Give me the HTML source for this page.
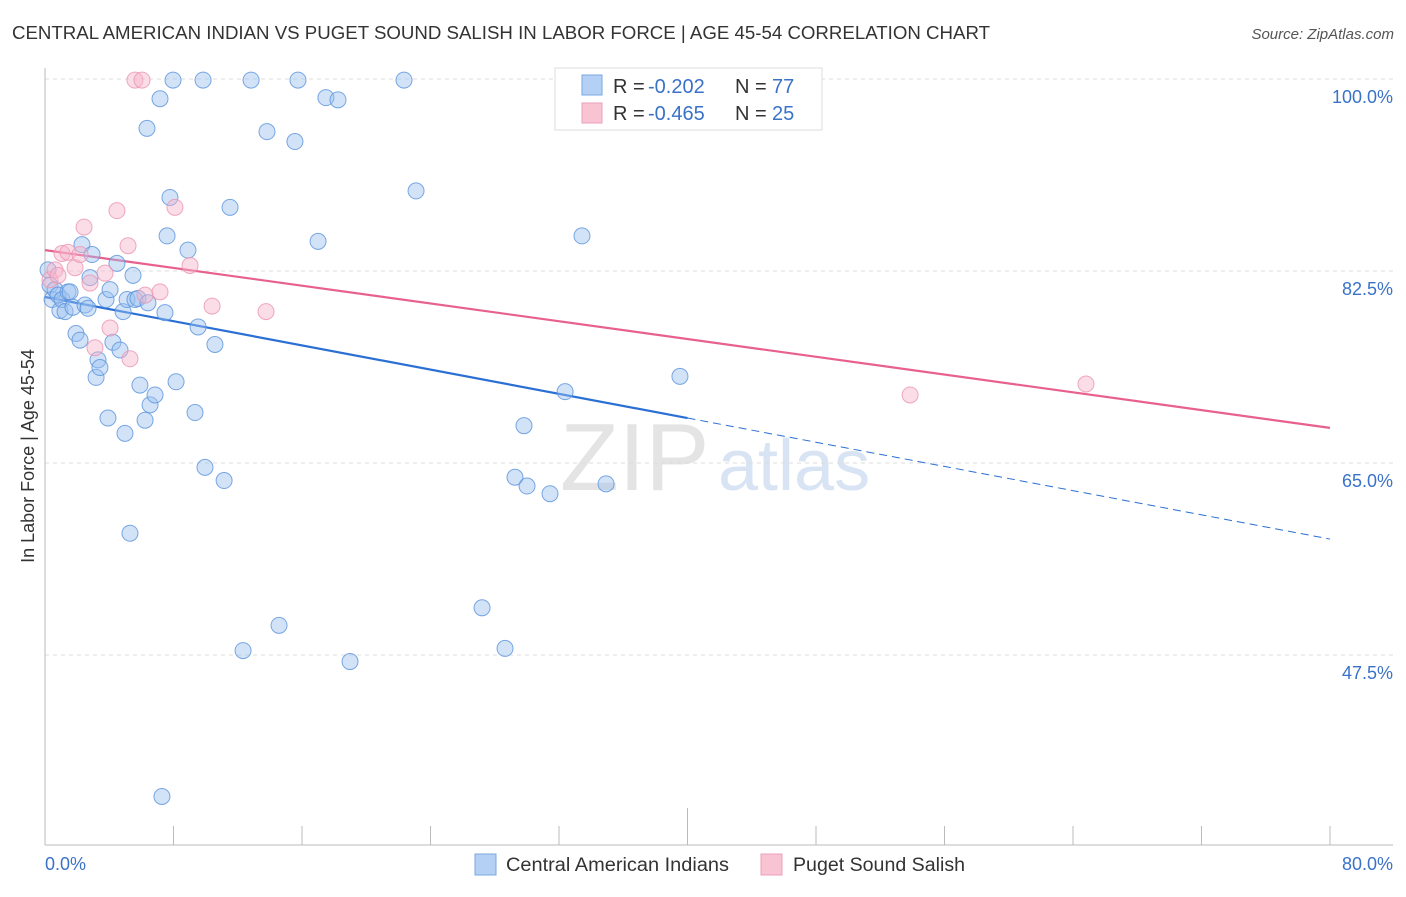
<!DOCTYPE html>
<html><head><meta charset="utf-8"><style>
body{margin:0;background:#fff;font-family:"Liberation Sans",sans-serif}
svg text{font-family:"Liberation Sans",sans-serif}
</style></head><body>
<svg id="chart" width="1406" height="892" xmlns="http://www.w3.org/2000/svg">
<text x="12" y="39" font-size="18" fill="#333" textLength="978" lengthAdjust="spacingAndGlyphs">CENTRAL AMERICAN INDIAN VS PUGET SOUND SALISH IN LABOR FORCE | AGE 45-54 CORRELATION CHART</text>
<text x="1394" y="39" font-size="15" fill="#555" font-style="italic" text-anchor="end">Source: ZipAtlas.com</text>
<text x="560" y="490" font-size="96" fill="#e4e4e4" font-family="Liberation Serif">ZIP</text>
<text x="718" y="490" font-size="72" fill="#d8e4f4">atlas</text>
<g id="grid"></g><g id="axes"></g><g id="lines"></g><g id="pts"></g>
<text transform="translate(34,456) rotate(-90)" font-size="18" fill="#333" text-anchor="middle">In Labor Force | Age 45-54</text>
<text x="45" y="870" font-size="18" fill="#3a72c8">0.0%</text>
<text x="1393" y="870" font-size="18" fill="#3a72c8" text-anchor="end">80.0%</text>
<g>
<rect x="555" y="68" width="267" height="62" fill="#fff" stroke="#ddd"/>
<rect x="582" y="75" width="20" height="20" fill="#b4d0f4" stroke="#7aa8e0"/>
<rect x="582" y="103" width="20" height="20" fill="#f8c4d4" stroke="#eba0b8"/>
<text x="613" y="93" font-size="20" fill="#333">R =</text><text x="648" y="93" font-size="20" fill="#3a72c8">-0.202</text>
<text x="735" y="93" font-size="20" fill="#333">N =</text><text x="772" y="93" font-size="20" fill="#3a72c8">77</text>
<text x="613" y="120" font-size="20" fill="#333">R =</text><text x="648" y="120" font-size="20" fill="#3a72c8">-0.465</text>
<text x="735" y="120" font-size="20" fill="#333">N =</text><text x="772" y="120" font-size="20" fill="#3a72c8">25</text>
</g>
<g>
<rect x="475" y="854" width="21" height="21" fill="#b4d0f4" stroke="#7aa8e0"/>
<text x="506" y="871" font-size="19" fill="#333" textLength="223" lengthAdjust="spacingAndGlyphs">Central American Indians</text>
<text x="793" y="871" font-size="19" fill="#333" textLength="172" lengthAdjust="spacingAndGlyphs">Puget Sound Salish</text>
<rect x="761" y="854" width="21" height="21" fill="#f8c4d4" stroke="#eba0b8"/>
</g>
</svg>
<script>
const yTicks=[100,82.5,65,47.5];
const yTickLabels=["100.0%","82.5%","65.0%","47.5%"];
const xTicks=[0,8,16,24,32,40,48,56,64,72,80];
const blueX=[0.19,0.31,0.44,0.62,0.81,0.93,1.06,1.25,1.43,1.56,1.74,1.93,2.18,2.30,2.49,2.68,2.80,2.93,3.18,3.30,3.42,3.80,3.92,4.05,4.23,4.48,4.67,4.86,4.98,5.11,5.29,5.48,5.60,5.79,5.91,6.23,6.35,6.41,6.54,6.85,7.16,7.28,7.47,7.60,7.78,7.97,8.16,8.90,9.34,9.53,9.84,9.96,10.58,11.15,11.52,12.33,12.83,13.82,14.57,15.56,15.75,17.00,17.49,18.24,18.99,22.35,23.10,27.21,28.64,29.26,29.82,30.01,31.44,32.38,33.43,34.93,39.53];
const blueY=[82.6,81.2,79.9,80.8,80.3,78.9,79.9,78.8,80.6,80.6,79.2,76.8,76.2,84.9,79.4,79.1,81.9,84.0,72.8,74.4,73.7,79.9,69.1,80.8,76.0,83.2,75.3,78.8,67.7,79.9,58.6,82.1,79.9,80.0,72.1,68.9,95.5,79.6,70.3,71.2,98.2,34.6,78.7,85.7,89.2,99.9,72.4,84.4,69.6,77.4,99.9,64.6,75.8,63.4,88.3,47.9,99.9,95.2,50.2,94.3,99.9,85.2,98.3,98.1,46.9,99.9,89.8,51.8,48.1,63.7,68.4,62.9,62.2,71.5,85.7,63.1,72.9];
const pinkX=[0.31,0.62,0.81,1.06,1.43,1.87,2.18,2.43,2.80,3.11,3.74,4.05,4.48,5.17,5.29,5.60,6.04,6.23,7.16,8.09,9.03,10.40,13.76,53.86,64.81];
const pinkY=[81.7,82.6,82.1,84.1,84.2,82.8,84.0,86.5,81.4,75.5,82.3,77.3,88.0,84.8,74.5,99.9,99.9,80.3,80.6,88.3,83.0,79.3,78.8,71.2,72.2];
const blueTrend=[80.13,-0.2758];
const pinkTrend=[84.4,-0.2025];
const NS="http://www.w3.org/2000/svg";
function sx(v){return 45+v*1285/80;}
function sy(v){return 79+(100-v)*10.971;}
function mk(t,a,p){const e=document.createElementNS(NS,t);for(const k in a)e.setAttribute(k,a[k]);document.getElementById(p).appendChild(e);return e;}
yTicks.forEach((t,i)=>{
 const g=mk('line',{x1:45,x2:1393,y1:sy(t),y2:sy(t),stroke:'#ddd','stroke-dasharray':'4,4'},'grid');
 
 
 const l=mk('text',{x:1393,y:sy(t)+24,'font-size':18,fill:'#3a72c8','text-anchor':'end'},'grid');
 l.textContent=yTickLabels[i];
 
 
});
const ya=mk('line',{x1:45,x2:45,y1:68,y2:845,stroke:'#bbb'},'axes');


const xa=mk('line',{x1:45,x2:1393,y1:845,y2:845,stroke:'#bbb'},'axes');


xTicks.forEach(t=>{
 const k=mk('line',{x1:sx(t),x2:sx(t),y1:t===40?808:826,y2:845,stroke:'#bbb'},'axes');
 
 
});
function trend(tr,x0,x1,col,dash,name){
 const a={x1:sx(x0),y1:sy(tr[0]+tr[1]*x0),x2:sx(x1),y2:sy(tr[0]+tr[1]*x1),stroke:col,'stroke-width':dash?1:2.2};
 if(dash)a['stroke-dasharray']='8,5';
 const l=mk('line',a,'lines');
 
 
}
function pts(X,Y,fill,stroke,name){
 X.forEach((x,i)=>{
  const c=mk('circle',{cx:sx(x),cy:sy(Y[i]),r:8,fill:fill,'fill-opacity':0.45,stroke:stroke,'stroke-opacity':0.8,'stroke-width':1},'pts');
  
  
 });
}
pts(blueX,blueY,'#9cc2f0','#5a92dc','central-american-point');
pts(pinkX,pinkY,'#f6b4ca','#eb94b2','puget-point');
trend(blueTrend,0,40,'#2a6fd4',false,'central-american-trend');
trend(blueTrend,40,80,'#2a6fd4',true,'central-american-trend-extrapolated');
trend(pinkTrend,0,80,'#e8608e',false,'puget-trend');
</script>
</body></html>
